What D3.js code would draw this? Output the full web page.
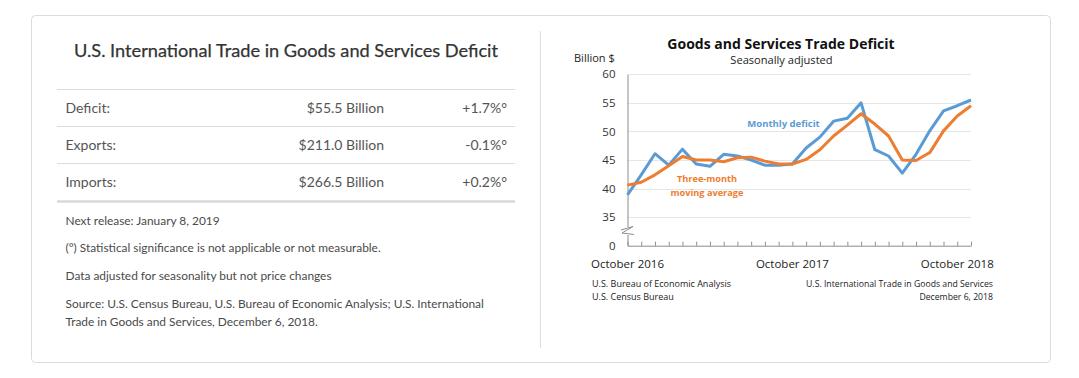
<!DOCTYPE html>
<html>
<head>
<meta charset="utf-8">
<script src="https://cdn.jsdelivr.net/npm/d3@7"></script>
<style>
  html, body { margin: 0; padding: 0; background: #fff; }
  svg { display: block; }
</style>
</head>
<body>
<svg id="chart" width="1079" height="378"></svg>
<script>
// ---------- data ----------
const months = [
  "Oct 2016","Nov 2016","Dec 2016","Jan 2017","Feb 2017","Mar 2017","Apr 2017","May 2017",
  "Jun 2017","Jul 2017","Aug 2017","Sep 2017","Oct 2017","Nov 2017","Dec 2017","Jan 2018",
  "Feb 2018","Mar 2018","Apr 2018","May 2018","Jun 2018","Jul 2018","Aug 2018","Sep 2018",
  "Oct 2018","Nov 2018"
];
const monthlyDeficit = [
  38.9, 42.4, 46.1, 44.1, 46.9, 44.3, 43.9, 46.0, 45.7, 45.0, 44.1, 44.1, 44.3,
  47.1, 49.0, 51.8, 52.3, 55.0, 46.8, 45.7, 42.7, 46.0, 50.1, 53.6, 54.5, 55.5
];
const movingAverage = [
  40.6, 41.1, 42.4, 44.0, 45.6, 45.0, 45.0, 44.7, 45.4, 45.5, 44.8, 44.3, 44.3,
  45.1, 46.8, 49.2, 51.1, 53.1, 51.3, 49.2, 45.0, 44.9, 46.3, 50.1, 52.7, 54.5
];
const xTickMonths = ["Oct 2016", "Oct 2017", "Oct 2018"];
const xTickLabels = ["October 2016", "October 2017", "October 2018"];
const yTickValues = [30, 35, 40, 45, 50, 55, 60];
const yTickLabels = ["0", "35", "40", "45", "50", "55", "60"];

const tableRows = [
  ["Deficit:", "$55.5 Billion", "+1.7%°"],
  ["Exports:", "$211.0 Billion", "-0.1%°"],
  ["Imports:", "$266.5 Billion", "+0.2%°"]
];
const notes = [
  "Next release: January 8, 2019",
  "(°) Statistical significance is not applicable or not measurable.",
  "Data adjusted for seasonality but not price changes",
  "Source: U.S. Census Bureau, U.S. Bureau of Economic Analysis; U.S. International",
  "Trade in Goods and Services, December 6, 2018."
];

// ---------- drawing ----------
const svg = d3.select("#chart");
const LATO = "Lato, 'Open Sans', sans-serif";
const CHART_FONT = "'Open Sans', Lato, sans-serif";

// card
svg.append("rect")
  .attr("x", 31.5).attr("y", 15.5).attr("width", 1019).attr("height", 347)
  .attr("rx", 4).attr("fill", "#fff").attr("stroke", "#dcdcdc");
// divider
svg.append("line")
  .attr("x1", 540.5).attr("x2", 540.5).attr("y1", 31).attr("y2", 348)
  .attr("stroke", "#dedede");

// ----- left panel -----
svg.append("text")
  .attr("x", 286).attr("y", 57).attr("text-anchor", "middle")
  .attr("font-family", LATO).attr("font-size", 18.2).attr("fill", "#333")
  .attr("stroke", "#333").attr("stroke-width", 0.25)
  .text("U.S. International Trade in Goods and Services Deficit");

const rowTop = 89.5, rowH = 37;
[0, 1, 2].forEach(i => {
  svg.append("line")
    .attr("x1", 57).attr("x2", 515)
    .attr("y1", rowTop + i * rowH).attr("y2", rowTop + i * rowH)
    .attr("stroke", "#dcdcdc");
});
svg.append("line")
  .attr("x1", 57).attr("x2", 515).attr("y1", 201.5).attr("y2", 201.5)
  .attr("stroke", "#d9d9d9").attr("stroke-width", 2.5);

tableRows.forEach((r, i) => {
  const y = rowTop + i * rowH + 23.5;
  const g = svg.append("g").attr("font-family", LATO).attr("font-size", 14).attr("fill", "#555");
  g.append("text").attr("x", 65.5).attr("y", y).text(r[0]);
  g.append("text").attr("x", 384).attr("y", y).attr("text-anchor", "end").text(r[1]);
  g.append("text").attr("x", 507).attr("y", y).attr("text-anchor", "end").text(r[2]);
});

const noteY = [225, 252, 280, 307.5, 325.5];
notes.forEach((t, i) => {
  svg.append("text").attr("x", 65.5).attr("y", noteY[i])
    .attr("font-family", LATO).attr("font-size", 11.9).attr("fill", "#4a4a4a")
    .text(t);
});

// ----- right panel: chart -----
const x = d3.scalePoint().domain(months).range([627.5, 971]);
const y = d3.scaleLinear().domain([30, 60]).range([245.7, 74.3]);

// gridlines
svg.append("g").selectAll("line")
  .data(yTickValues.filter(v => v > 30))
  .join("line")
  .attr("x1", x.range()[0]).attr("x2", x.range()[1])
  .attr("y1", d => Math.round(y(d)) + 0.5).attr("y2", d => Math.round(y(d)) + 0.5)
  .attr("stroke", "#e6e6e6");

// y axis
const yAxis = svg.append("g")
  .attr("transform", `translate(${x.range()[0]},0)`)
  .call(d3.axisLeft(y).tickValues(yTickValues)
        .tickFormat((d, i) => yTickLabels[i]).tickSize(0).tickPadding(12));
yAxis.select(".domain").attr("stroke", "#8c8c8c");
yAxis.selectAll("text").attr("font-family", CHART_FONT).attr("font-size", 11.5).attr("fill", "#333");

// x axis
const xAxis = svg.append("g")
  .attr("transform", `translate(0,${y(30)})`)
  .call(d3.axisBottom(x).tickSizeInner(-4).tickSizeOuter(0).tickFormat(""));
xAxis.select(".domain").attr("stroke", "#8c8c8c");
xAxis.selectAll(".tick line").attr("stroke", "#8c8c8c");

// x tick labels
svg.append("g").selectAll("text")
  .data(xTickMonths)
  .join("text")
  .attr("x", d => x(d)).attr("y", 268)
  .attr("text-anchor", "middle")
  .attr("font-family", CHART_FONT).attr("font-size", 11.5).attr("fill", "#222")
  .text((d, i) => xTickLabels[i]);

// axis break
const by = 231;
svg.append("rect").attr("x", 622).attr("y", by - 4).attr("width", 12).attr("height", 8).attr("fill", "#fff");
svg.append("path")
  .attr("d", `M621,${by - 1} L633,${by - 4.5} L622,${by + 2} L634,${by + 3.5}`)
  .attr("fill", "none").attr("stroke", "#8c8c8c").attr("stroke-width", 1);

// lines
const line = d3.line().x((d, i) => x(months[i])).y(d => y(d));
svg.append("path").datum(monthlyDeficit)
  .attr("d", line).attr("fill", "none").attr("stroke", "#5B9BD5")
  .attr("stroke-width", 3).attr("stroke-linejoin", "round");
svg.append("path").datum(movingAverage)
  .attr("d", line).attr("fill", "none").attr("stroke", "#ED7D31")
  .attr("stroke-width", 3).attr("stroke-linejoin", "round");

// series labels
svg.append("text").attr("x", 783.5).attr("y", 126.5).attr("text-anchor", "middle")
  .attr("font-family", CHART_FONT).attr("font-size", 9.5).attr("font-weight", "bold")
  .attr("fill", "#5B9BD5").text("Monthly deficit");
svg.append("text").attr("x", 707).attr("y", 181.5).attr("text-anchor", "middle")
  .attr("font-family", CHART_FONT).attr("font-size", 9.2).attr("font-weight", "bold")
  .attr("fill", "#ED7D31").text("Three-month");
svg.append("text").attr("x", 707).attr("y", 195.5).attr("text-anchor", "middle")
  .attr("font-family", CHART_FONT).attr("font-size", 9.2).attr("font-weight", "bold")
  .attr("fill", "#ED7D31").text("moving average");

// chart titles
svg.append("text").attr("x", 781).attr("y", 48.5).attr("text-anchor", "middle")
  .attr("font-family", CHART_FONT).attr("font-size", 14).attr("font-weight", "bold")
  .attr("fill", "#111").text("Goods and Services Trade Deficit");
svg.append("text").attr("x", 781.5).attr("y", 64).attr("text-anchor", "middle")
  .attr("font-family", CHART_FONT).attr("font-size", 11.1)
  .attr("fill", "#222").text("Seasonally adjusted");
svg.append("text").attr("x", 574).attr("y", 62).attr("text-anchor", "start")
  .attr("font-family", CHART_FONT).attr("font-size", 11)
  .attr("fill", "#222").text("Billion $");

// footer
const foot = svg.append("g").attr("font-family", CHART_FONT).attr("fill", "#222");
foot.append("text").attr("x", 592).attr("y", 287).attr("font-size", 9).text("U.S. Bureau of Economic Analysis");
foot.append("text").attr("x", 592).attr("y", 300).attr("font-size", 9).text("U.S. Census Bureau");
foot.append("text").attr("x", 993).attr("y", 287).attr("font-size", 8.7).attr("text-anchor", "end").text("U.S. International Trade in Goods and Services");
foot.append("text").attr("x", 993).attr("y", 300).attr("font-size", 8.7).attr("text-anchor", "end").text("December 6, 2018");
</script>
</body>
</html>
